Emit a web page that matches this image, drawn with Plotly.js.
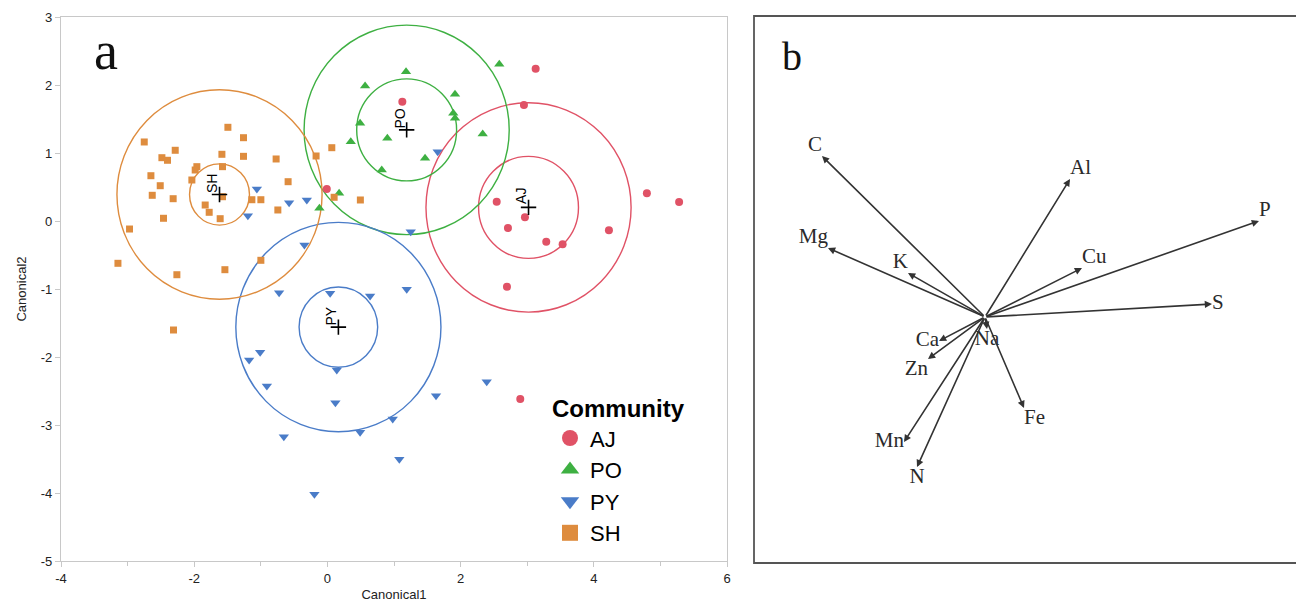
<!DOCTYPE html>
<html><head><meta charset="utf-8">
<script src="https://cdn.plot.ly/plotly-3.0.1.min.js"></script>
<style>html,body{margin:0;padding:0;background:#fff}#chart{width:1296px;height:604px}</style>
</head><body><div id="chart"></div>
<script>
// ---------- Panel a: canonical scores ----------
const groups = ['AJ', 'PO', 'PY', 'SH'];
const ajX = [3.127, 1.125, 2.951, -0.009, 4.797, 5.281, 2.542, 2.966, 2.711, 4.227, 3.286, 3.532, 2.696, 2.896];
const ajY = [2.240, 1.754, 1.706, 0.471, 0.407, 0.279, 0.284, 0.054, -0.103, -0.137, -0.304, -0.343, -0.966, -2.618];
const poX = [1.181, 0.566, 1.916, 2.581, 1.890, 1.916, 0.491, 0.900, 0.351, 2.332, 1.466, 0.816, 0.176, -0.120];
const poY = [2.196, 1.985, 1.863, 2.304, 1.584, 1.510, 1.437, 1.216, 1.166, 1.279, 0.922, 0.750, 0.407, 0.187];
const pyX = [-1.059, -0.575, -0.309, -1.194, -0.345, -0.725, 1.656, 1.251, 0.041, 0.641, 1.191, -1.010, -1.175, 0.141, -0.909, 0.120, 1.631, 0.981, 0.491, -0.654, 1.080, -0.195, 2.392];
const pyY = [0.471, 0.269, 0.309, 0.078, -0.353, -1.054, 1.019, -0.157, -1.063, -1.103, -1.004, -1.931, -2.044, -2.191, -2.426, -2.672, -2.569, -2.912, -3.107, -3.172, -3.504, -4.019, -2.363];
const shX = [-1.494, -1.260, -2.750, -2.285, -2.485, -2.401, -1.584, -1.260, -0.770, -1.960, -1.985, -1.575, -2.650, -2.035, -0.590, -2.510, -2.630, -2.316, -1.575, -1.134, -0.999, -1.835, -1.775, -1.610, -0.744, -2.461, -2.971, -0.170, -3.145, -2.260, -1.539, -0.999, -2.311, 0.066, 0.101, 0.495];
const shY = [1.378, 1.225, 1.162, 1.040, 0.931, 0.893, 0.981, 0.951, 0.912, 0.799, 0.750, 0.799, 0.666, 0.603, 0.578, 0.519, 0.378, 0.328, 0.357, 0.313, 0.313, 0.235, 0.128, 0.034, 0.162, 0.040, -0.118, 0.956, -0.622, -0.790, -0.716, -0.578, -1.603, 1.078, 0.349, 0.309];

const centroidX = [3.02, 1.19, 0.165, -1.62];
const centroidY = [0.20, 1.34, -1.56, 0.39];
const innerR = [0.75, 0.75, 0.59, 0.45];
const outerR = [1.54, 1.54, 1.54, 1.54];

const xTickVals = [-4, -2, 0, 2, 4, 6];
const xTickText = ['-4', '-2', '0', '2', '4', '6'];
const yTickVals = [-5, -4, -3, -2, -1, 0, 1, 2, 3];
const yTickText = ['-5', '-4', '-3', '-2', '-1', '0', '1', '2', '3'];

// ---------- Panel b: element loadings ----------
const elements = ['C', 'Mg', 'K', 'Al', 'P', 'Cu', 'S', 'Ca', 'Zn', 'Na', 'Fe', 'Mn', 'N'];
const loadX = [-1.63, -1.57, -0.77, 0.85, 2.74, 0.97, 2.27, -0.46, -0.57, 0.02, 0.39, -0.81, -0.68];
const loadY = [1.61, 0.69, 0.44, 1.38, 0.96, 0.49, 0.13, -0.24, -0.42, -0.12, -0.91, -1.25, -1.50];

// ---------- styles ----------
const colors = ['rgb(224,82,102)', 'rgb(62,176,66)', 'rgb(74,124,200)', 'rgb(222,140,62)'];
const symbols = ['circle', 'triangle-up', 'triangle-down', 'square'];
const msizes = [8, 9, 9, 7];
const labelPos = ['top left', 'top left', 'top left', 'top right', 'top right', 'top right', 'middle right',
                  'middle left', 'bottom left', 'bottom center', 'bottom right', 'middle left', 'bottom center'];

const xs = [ajX, poX, pyX, shX], ys = [ajY, poY, pyY, shY];
const traces = [];
groups.forEach((g, i) => {
  traces.push({type: 'scatter', mode: 'markers', x: xs[i], y: ys[i], name: g, showlegend: false,
    marker: {symbol: symbols[i], size: msizes[i], color: colors[i]}, xaxis: 'x', yaxis: 'y', hoverinfo: 'x+y+name'});
});
// legend entries (bigger symbols)
groups.forEach((g, i) => {
  traces.push({type: 'scatter', mode: 'markers', x: [null], y: [null], name: g, showlegend: true,
    marker: {symbol: symbols[i], size: 16, color: colors[i]}, xaxis: 'x', yaxis: 'y'});
});
// centroid crosses
traces.push({type: 'scatter', mode: 'markers', x: centroidX, y: centroidY, showlegend: false, hoverinfo: 'skip',
  marker: {symbol: 'cross-thin', size: 11, line: {width: 1.6, color: '#000'}}, xaxis: 'x', yaxis: 'y'});
// panel b label text
traces.push({type: 'scatter', mode: 'text', x: loadX, y: loadY, text: elements, textposition: labelPos,
  textfont: {family: 'Liberation Serif', size: 21, color: '#2a2a2a'}, showlegend: false, hoverinfo: 'skip',
  xaxis: 'x2', yaxis: 'y2'});

const shapes = [];
groups.forEach((g, i) => {
  [innerR[i], outerR[i]].forEach(r => {
    shapes.push({type: 'circle', xref: 'x', yref: 'y', x0: centroidX[i] - r, x1: centroidX[i] + r,
      y0: centroidY[i] - r, y1: centroidY[i] + r, line: {color: colors[i], width: 1.4}, layer: 'below'});
  });
});
// panel b frame
shapes.push({type: 'rect', xref: 'paper', yref: 'paper', x0: 754 / 1296, x1: 1.02, y0: 41 / 604, y1: 588 / 604,
  line: {color: '#555', width: 1.8}});

const annotations = [];
groups.forEach((g, i) => {
  annotations.push({xref: 'x', yref: 'y', x: centroidX[i], y: centroidY[i], text: g, showarrow: false,
    textangle: -90, xshift: -7, yshift: 11, font: {family: 'Liberation Sans', size: 14, color: '#000'}});
});
elements.forEach((e, i) => {
  annotations.push({xref: 'x2', yref: 'y2', axref: 'x2', ayref: 'y2', x: loadX[i], y: loadY[i], ax: 0, ay: 0,
    text: '', showarrow: true, arrowhead: 2, arrowsize: 0.9, arrowwidth: 1.6, arrowcolor: '#333'});
});
annotations.push({xref: 'paper', yref: 'paper', x: 106 / 1296, y: (604 - 51) / 604, xanchor: 'center', yanchor: 'middle',
  text: 'a', showarrow: false, font: {family: 'Liberation Serif', size: 54, color: '#111'}});
annotations.push({xref: 'paper', yref: 'paper', x: 792 / 1296, y: (604 - 56) / 604, xanchor: 'center', yanchor: 'middle',
  text: 'b', showarrow: false, font: {family: 'Liberation Serif', size: 40, color: '#111'}});

const tickStyle = {ticks: 'outside', ticklen: 5, tickcolor: '#c8c8c8', showline: true, linecolor: '#c8c8c8',
  linewidth: 1.2, mirror: true, showgrid: false, zeroline: false,
  tickfont: {family: 'Liberation Sans', size: 13, color: '#222'}};

const layout = {
  width: 1296, height: 604, margin: {l: 0, r: 0, t: 0, b: 0}, paper_bgcolor: '#fff', plot_bgcolor: '#fff',
  showlegend: true,
  xaxis: Object.assign({}, tickStyle, {domain: [61 / 1296, 727 / 1296], range: [-4, 6],
    tickmode: 'array', tickvals: xTickVals, ticktext: xTickText,
    minor: {dtick: 1, tick0: -4, ticks: 'outside', ticklen: 4, tickcolor: '#c8c8c8', showgrid: false},
    title: {text: 'Canonical1', standoff: 5, font: {family: 'Liberation Sans', size: 13, color: '#222'}}}),
  yaxis: Object.assign({}, tickStyle, {domain: [43 / 604, 587 / 604], range: [-5, 3],
    tickmode: 'array', tickvals: yTickVals, ticktext: yTickText,
    title: {text: 'Canonical2', standoff: 11, font: {family: 'Liberation Sans', size: 13, color: '#222'}}}),
  xaxis2: {domain: [754 / 1296, 1], range: [-2.31, 3.11], visible: false, anchor: 'y2'},
  yaxis2: {domain: [41 / 604, 588 / 604], range: [-2.46, 3.01], visible: false, anchor: 'x2'},
  legend: {x: 550 / 1296, y: (604 - 386) / 604, xanchor: 'left', yanchor: 'top', bgcolor: 'rgba(0,0,0,0)',
    title: {text: '<b>Community</b>', font: {family: 'Liberation Sans', size: 24, color: '#000'}},
    font: {family: 'Liberation Sans', size: 22, color: '#000'}, tracegroupgap: 0},
  shapes: shapes, annotations: annotations
};
Plotly.newPlot('chart', traces, layout, {displayModeBar: false, staticPlot: true});
</script></body></html>
